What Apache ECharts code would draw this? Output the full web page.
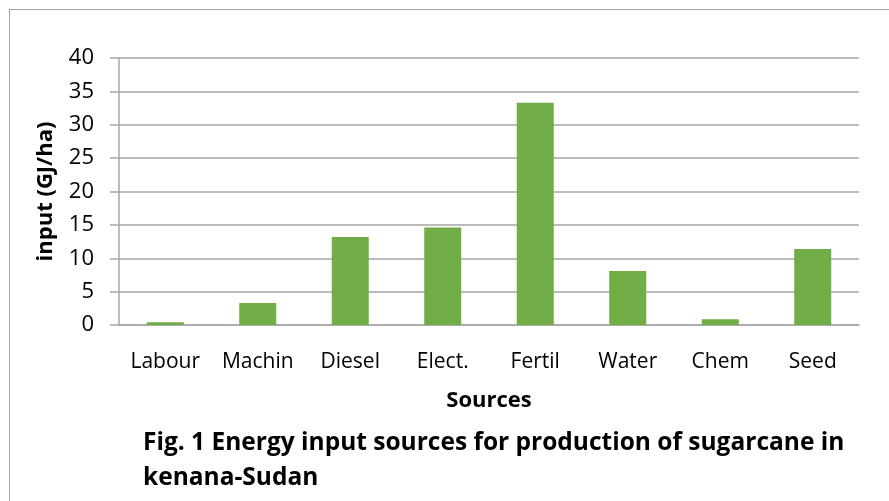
<!DOCTYPE html>
<html>
<head>
    <meta charset="UTF-8">
    <title>Energy input sources</title>
    <style>
        html, body { margin: 0; padding: 0; background: #fff; overflow: hidden; width: 889px; height: 501px; }
        #frame {
            position: absolute; left: 9px; top: 9px; width: 900px; height: 520px;
            border-left: 1px solid #a6a6a6; border-top: 1px solid #a6a6a6;
        }
        #main { position: absolute; left: 0; top: 0; width: 889px; height: 501px; }
    </style>
</head>
<body>
<div id="frame"></div>
<div id="main"></div>
<script src="https://cdn.jsdelivr.net/npm/echarts@6/dist/echarts.min.js"></script>
<script>
    // categories and values
    var sources = ['Labour', 'Machin', 'Diesel', 'Elect.', 'Fertil', 'Water', 'Chem', 'Seed'];
    var inputGJ = [0.4, 3.3, 13.2, 14.6, 33.3, 8.1, 0.85, 11.4];
    var yTicks = [0, 40, 5]; // min, max, step

    var font = 'Open Sans';
    var myChart = echarts.init(document.getElementById('main'));
    var option = {
        animation: false,
        title: {
            text: 'Fig. 1 Energy input sources for production of sugarcane in\nkenana-Sudan',
            left: 138,
            top: 421,
            textStyle: { fontFamily: font, fontSize: 24.5, fontWeight: 'bold', color: '#000', lineHeight: 35 }
        },
        grid: { left: 119, right: 30, top: 58, bottom: 176 },
        xAxis: {
            type: 'category',
            data: sources,
            name: 'Sources',
            nameLocation: 'middle',
            nameGap: 65,
            nameTextStyle: { fontFamily: font, fontSize: 22, fontWeight: 'bold', color: '#000' },
            axisLine: { lineStyle: { color: '#a6a6a6', width: 1.5 } },
            axisTick: { show: false },
            axisLabel: { interval: 0, hideOverlap: false, fontFamily: font, fontSize: 21, color: '#000', margin: 27 }
        },
        yAxis: {
            type: 'value',
            min: yTicks[0],
            max: yTicks[1],
            interval: yTicks[2],
            name: 'input (GJ/ha)',
            nameLocation: 'middle',
            nameGap: 62,
            nameTextStyle: { fontFamily: font, fontSize: 22, fontWeight: 'bold', color: '#000' },
            axisLine: { show: true, lineStyle: { color: '#a6a6a6', width: 1.5 } },
            axisTick: { show: true, length: 9, lineStyle: { color: '#a6a6a6', width: 1.5 } },
            splitLine: { lineStyle: { color: '#a6a6a6', width: 1.5 } },
            axisLabel: { fontFamily: font, fontSize: 22, color: '#000', margin: 25 }
        },
        series: [{
            type: 'bar',
            data: inputGJ,
            barWidth: '40%',
            itemStyle: { color: '#70ad47' }
        }]
    };
    myChart.setOption(option);
</script>
</body>
</html>
